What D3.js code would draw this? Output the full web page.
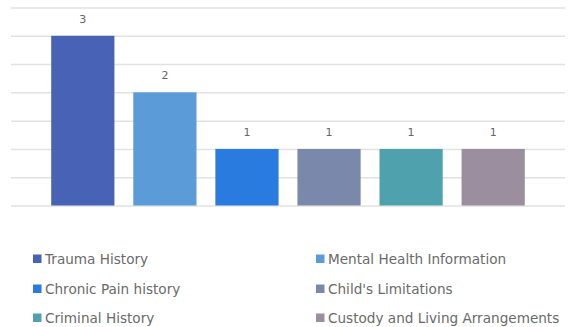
<!DOCTYPE html>
<html>
<head>
<meta charset="utf-8">
<script src="https://cdn.jsdelivr.net/npm/d3@7"></script>
<style>
  body { margin: 0; background: #fff; }
  .grid line { stroke: #e2e2e2; stroke-width: 1.5; }
  .grid path { display: none; }
</style>
</head>
<body>
<script>
const w = 569;
const h = 327;

const categories = ["Trauma History", "Mental Health Information", "Chronic Pain history",
                    "Child's Limitations", "Criminal History", "Custody and Living Arrangements"];
const values = [3, 2, 1, 1, 1, 1];
const colors = ["#4862b6", "#5b9bd8", "#2a7bdf", "#7a89ab", "#50a1ae", "#9b8e9f"];
const yTicks = [0, 0.5, 1, 1.5, 2, 2.5, 3, 3.5];

const plotLeft = 11, plotRight = 565, plotTop = 7.5, plotBottom = 205.5;

const xScale = d3.scaleBand()
                 .domain(categories)
                 .range([plotLeft, plotRight])
                 .paddingInner(0.23)
                 .paddingOuter(0.49);

const yScale = d3.scaleLinear()
                 .domain([0, 3.5])
                 .range([plotBottom, plotTop]);

const svg = d3.select("body")
              .append("svg")
              .attr("width", w)
              .attr("height", h);

// gridlines
svg.append("g")
   .attr("class", "grid")
   .attr("transform", "translate(" + plotLeft + ",0)")
   .call(d3.axisLeft(yScale).tickValues(yTicks).tickSize(-(plotRight - plotLeft)).tickFormat(""));

svg.selectAll("rect.bar")
   .data(values)
   .enter()
   .append("rect")
   .attr("class", "bar")
   .attr("x", (d, i) => xScale(categories[i]))
   .attr("y", d => yScale(d))
   .attr("width", xScale.bandwidth())
   .attr("height", d => yScale(0) - yScale(d))
   .attr("fill", (d, i) => colors[i]);

svg.selectAll("text.val")
   .data(values)
   .enter()
   .append("text")
   .attr("class", "val")
   .attr("x", (d, i) => xScale(categories[i]) + xScale.bandwidth() / 2)
   .attr("y", d => yScale(d) - 13)
   .attr("text-anchor", "middle")
   .attr("font-family", "DejaVu Sans, sans-serif")
   .attr("font-size", 11)
   .attr("fill", "#666")
   .text(d => d);

// legend, two columns
const legendX = [33, 316];
const legendY = [259, 289, 318];

const legend = svg.selectAll("g.legend")
   .data(categories)
   .enter()
   .append("g")
   .attr("class", "legend")
   .attr("transform", (d, i) => "translate(" + legendX[i % 2] + "," + legendY[Math.floor(i / 2)] + ")");

legend.append("rect")
      .attr("x", 0)
      .attr("y", -4.5)
      .attr("width", 8.5)
      .attr("height", 8.5)
      .attr("fill", (d, i) => colors[i]);

legend.append("text")
      .attr("x", 12)
      .attr("y", 0)
      .attr("dy", "0.35em")
      .attr("font-family", "DejaVu Sans, sans-serif")
      .attr("font-size", 13.6)
      .attr("fill", "#6a6a6a")
      .text(d => d);
</script>
</body>
</html>
